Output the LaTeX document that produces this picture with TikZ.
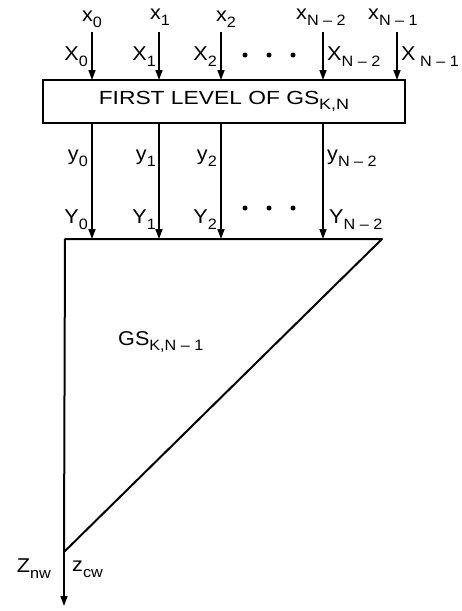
\documentclass[tikz,border=0pt]{standalone}
\usepackage{fontspec}
\setmainfont{Liberation Sans}[FakeStretch=1.08]
\newfontfamily\boxfont{Liberation Sans}[FakeStretch=1.2]
\usetikzlibrary{arrows.meta}
\newcommand{\lsb}[1]{\raisebox{-0.55ex}{\fontsize{15}{15}\selectfont #1}}
\tikzset{
  sig/.style={line width=1.5pt,-{Triangle[length=10pt,width=7pt]}},
  lab/.style={inner sep=0pt,font=\fontsize{20}{20}\selectfont},
  dotm/.style={circle,fill=black,inner sep=0pt,minimum size=5pt},
}
\begin{document}
\begin{tikzpicture}[x=1pt,y=-1pt]
\useasboundingbox (0,0) rectangle (461,611);
% first level box
\node[draw,line width=2pt,minimum width=362pt,minimum height=43pt,inner sep=0pt,
  font=\boxfont\fontsize{19}{19}\selectfont] (box) at (224,101.5) {FIRST LEVEL OF GS\lsb{K,N}};
% input coordinates
\foreach \i/\x in {0/92,1/159,2/221,3/323,4/397}{
  \coordinate (in\i) at (\x,32);
  \coordinate (bt\i) at (\x,80);
}
\foreach \i in {0,...,4}{\draw[sig] (in\i) -- (bt\i);}
% lowercase x labels
\node[lab] (lx0) at (92,19) {x\lsb{0}};
\node[lab] (lx1) at (160,17) {x\lsb{1}};
\node[lab] (lx2) at (226,19) {x\lsb{2}};
\node[lab] (lx3) at (321,17) {x\lsb{N -- 2}};
\node[lab] (lx4) at (393,17) {x\lsb{N -- 1}};
% uppercase X labels
\node[lab,anchor=east] (ux0) at (88,57) {X\lsb{0}};
\node[lab,anchor=east] (ux1) at (156,57) {X\lsb{1}};
\node[lab,anchor=east] (ux2) at (217,57) {X\lsb{2}};
\node[lab,anchor=west] (ux3) at (327,57) {X\lsb{N -- 2}};
\node[lab,anchor=west] (ux4) at (401,57) {X\lsb{\ N -- 1}};
% dots
\node[dotm] (d1) at (245,55) {};
\node[dotm] (d2) at (269,55) {};
\node[dotm] (d3) at (293,55) {};
% triangle
\coordinate (tl) at (65,239);
\coordinate (tr) at (382,239);
\coordinate (bv) at (64,552);
\coordinate (out) at (64,606);
\draw[line width=2pt,line join=round] (bv) -- (tl) -- (tr) -- cycle;
% lower arrows
\foreach \i/\x in {0/92,1/159,2/221,3/323}{
  \coordinate (bb\i) at (\x,123);
  \coordinate (tt\i) at (\x,239);
  \draw[sig] (bb\i) -- (tt\i);
}
% y labels
\node[lab,anchor=east] (ly0) at (88,158) {y\lsb{0}};
\node[lab,anchor=east] (ly1) at (156,158) {y\lsb{1}};
\node[lab,anchor=east] (ly2) at (217,158) {y\lsb{2}};
\node[lab,anchor=west] (ly3) at (327,158) {y\lsb{N -- 2}};
% Y labels
\node[lab,anchor=east] (uy0) at (88,220) {Y\lsb{0}};
\node[lab,anchor=east] (uy1) at (156,220) {Y\lsb{1}};
\node[lab,anchor=east] (uy2) at (217,220) {Y\lsb{2}};
\node[lab,anchor=west] (uy3) at (329,220) {Y\lsb{N -- 2}};
% dots lower
\node[dotm] (e1) at (245,208) {};
\node[dotm] (e2) at (269,208) {};
\node[dotm] (e3) at (293,208) {};
% GS label
\node[lab,anchor=west] (gs) at (118,342) {GS\lsb{K,N -- 1}};
% output
\draw[sig] (bv) -- (out);
\node[lab,anchor=east] (znw) at (51,569) {Z\lsb{nw}};
\node[lab,anchor=west] (zcw) at (72,569) {z\lsb{cw}};
\end{tikzpicture}
\end{document}
